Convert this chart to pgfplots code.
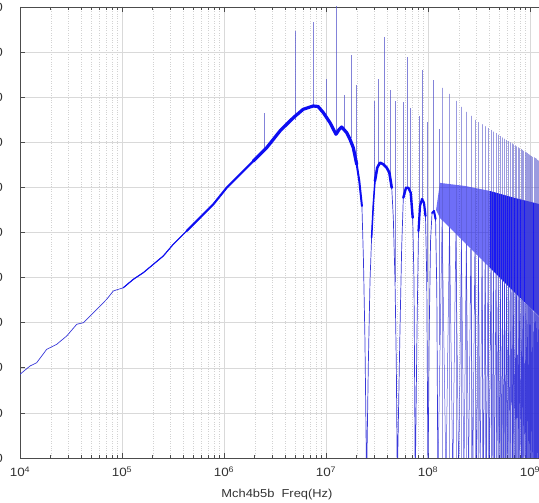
\documentclass[border=0pt]{standalone}
\usepackage{fontspec}
\setmainfont{Liberation Sans}[FakeStretch=1.12]
\usepackage{pgfplots}
\pgfplotsset{compat=1.18}
\definecolor{thinc}{rgb}{0.22,0.22,0.85}
\definecolor{thickc}{rgb}{0.05,0.05,0.95}
\definecolor{spk}{rgb}{0.35,0.35,0.8}
\definecolor{lobec}{rgb}{0.15,0.15,0.85}
\definecolor{axc}{rgb}{0.3,0.3,0.3}
\begin{document}
\begin{tikzpicture}[x=1pt,y=1pt]
\path[use as bounding box] (0,0) rectangle (539,503);
\clip (0,0) rectangle (539,503);
\begin{axis}[
  at={(20pt,45pt)}, anchor=south west,
  scale only axis, width=524.9pt, height=451pt,
  xmode=log, xmin=1e4, xmax=1.4e9, ymin=0, ymax=10,
  xtick={1e4,1e5,1e6,1e7,1e8,1e9},
  xticklabels={10\textsuperscript{4},10\textsuperscript{5},10\textsuperscript{6},10\textsuperscript{7},10\textsuperscript{8},10\textsuperscript{9}},
  ytick={0,1,...,10},
  yticklabels={-120,-110,-100,-90,-80,-70,-60,-50,-40,-30,-20},
  xmajorgrids, xminorgrids, ymajorgrids,
  major grid style={gray!30, line width=0.5pt},
  minor grid style={gray!35, dotted, line width=0.4pt},
  axis line style={axc, line width=0.8pt},
  tick style={axc, line width=0.6pt},
  major tick length=5pt, minor tick length=3pt,
  tick label style={font=\fontsize{12}{14}\selectfont, text=black!80},
  xticklabel style={yshift=-5pt},
  yticklabel style={xshift=-13.5pt},
  xlabel={Mch4b5b\ \ Freq(Hz)},
  xlabel style={font=\fontsize{11.5}{13}\selectfont, text=black!80, xshift=-5.5pt, yshift=-6pt},
  unbounded coords=jump,
  every axis plot/.append style={line join=round, line cap=round},
]
% band of the dense high-frequency part
\addplot[fill=thickc, draw=none, opacity=0.6] coordinates {
(1.2e8,5.5) (1.31e8,6.10) (2.31e8,6.031) (4.06e8,5.920) (4.06e8,4.213) (2.31e8,4.767) (1.31e8,5.322)} -- cycle;
\addplot[fill=thickc, draw=none, opacity=0.95] coordinates {
(4.06e8,5.920) (7.13e8,5.765) (1.225e9,5.632) (1.5e9,5.588) (1.5e9,2.949) (1.225e9,3.149) (7.13e8,3.659) (4.06e8,4.213)} -- cycle;
% harmonic spikes, high band (from bottom)
\addplot[ycomb, spk, line width=0.4pt, opacity=0.6, no marks] coordinates {
(1.375e8,8.204) (1.625e8,8.071) (1.875e8,7.916) (2.125e8,7.783) (2.375e8,7.672) (2.625e8,7.583) (2.875e8,7.494)
(3.125e8,7.444) (3.375e8,7.396) (3.625e8,7.352) (3.875e8,7.310) (4.125e8,7.270) (4.375e8,7.233) (4.625e8,7.199)
(4.875e8,7.165) (5.125e8,7.134) (5.375e8,7.104) (5.625e8,7.076) (5.875e8,7.048) (6.125e8,7.022) (6.375e8,6.996)
(6.625e8,6.972) (6.875e8,6.949) (7.125e8,6.927) (7.375e8,6.905) (7.625e8,6.884) (7.875e8,6.864) (8.125e8,6.844)
(8.375e8,6.826) (8.625e8,6.806) (8.875e8,6.789) (9.125e8,6.772) (9.375e8,6.755) (9.625e8,6.738) (9.875e8,6.722)
(1.0125e9,6.705) (1.0375e9,6.691) (1.0625e9,6.675) (1.0875e9,6.661) (1.1125e9,6.647) (1.1375e9,6.633)
(1.1625e9,6.619) (1.1875e9,6.606) (1.2125e9,6.593) (1.2375e9,6.580)};
% sinc lobes above 125 MHz
\addplot[lobec, line width=0.5pt, opacity=0.8, no marks] coordinates {
(1.25e8,-0.5) (1.375e8,5.275) (1.5e8,-0.5) (1.625e8,5.111) (1.75e8,-0.5) (1.875e8,4.969) (2e8,-0.5) (2.125e8,4.847)
(2.25e8,-0.5) (2.375e8,4.738) (2.5e8,-0.5) (2.625e8,4.639) (2.75e8,-0.5) (2.875e8,4.550) (3e8,-0.5) (3.125e8,4.468)
(3.25e8,-0.5) (3.375e8,4.392) (3.5e8,-0.5) (3.625e8,4.322) (3.75e8,-0.5) (3.875e8,4.257) (4e8,-0.5) (4.125e8,4.195)
(4.25e8,-0.5) (4.375e8,4.137) (4.5e8,-0.5) (4.625e8,4.082) (4.75e8,-0.5) (4.875e8,4.031) (5e8,-0.5) (5.125e8,3.982)
(5.25e8,-0.5) (5.375e8,3.936) (5.5e8,-0.5) (5.625e8,3.891) (5.75e8,-0.5) (5.875e8,3.847) (6e8,-0.5) (6.125e8,3.807)
(6.25e8,-0.5) (6.375e8,3.767) (6.5e8,-0.5) (6.625e8,3.730) (6.75e8,-0.5) (6.875e8,3.693) (7e8,-0.5) (7.125e8,3.659)
(7.25e8,-0.5) (7.375e8,3.625) (7.5e8,-0.5) (7.625e8,3.592) (7.75e8,-0.5) (7.875e8,3.561) (8e8,-0.5) (8.125e8,3.530)
(8.25e8,-0.5) (8.375e8,3.499) (8.5e8,-0.5) (8.625e8,3.470) (8.75e8,-0.5) (8.875e8,3.443) (9e8,-0.5) (9.125e8,3.415)
(9.25e8,-0.5) (9.375e8,3.390) (9.5e8,-0.5) (9.625e8,3.364) (9.75e8,-0.5) (9.875e8,3.337) (1e9,-0.5) (1.0125e9,3.313)
(1.025e9,-0.5) (1.0375e9,3.290) (1.05e9,-0.5) (1.0625e9,3.266) (1.075e9,-0.5) (1.0875e9,3.244) (1.1e9,-0.5) (1.1125e9,3.222)
(1.125e9,-0.5) (1.1375e9,3.200) (1.15e9,-0.5) (1.1625e9,3.177) (1.175e9,-0.5) (1.1875e9,3.157) (1.2e9,-0.5) (1.2125e9,3.137)
(1.225e9,-0.5) (1.2375e9,3.115) (1.25e9,-0.5)};
% low-frequency harmonic spikes
\addplot[spk, line width=0.45pt, opacity=0.75, no marks, line cap=butt] coordinates {
(2.5e6,6.88) (2.5e6,7.656) (2.5e6,nan)
(5e6,7.49) (5e6,9.468) (5e6,nan)
(7.5e6,7.80) (7.5e6,9.667) (7.5e6,nan)
(1e7,7.55) (1e7,8.404) (1e7,nan)
(1.25e7,7.18) (1.25e7,10.5) (1.25e7,nan)
(1.5e7,7.25) (1.5e7,8.049) (1.5e7,nan)
(1.75e7,7.09) (1.75e7,8.936) (1.75e7,nan)
(2e7,6.51) (2e7,8.271) (2e7,nan)
(3e7,6.1) (3e7,7.916) (3e7,nan)
(3.25e7,6.45) (3.25e7,8.404) (3.25e7,nan)
(3.75e7,6.5) (3.75e7,9.335) (3.75e7,nan)
(4.25e7,6.2) (4.25e7,8.160) (4.25e7,nan)
(4.75e7,3.9) (4.75e7,7.916) (4.75e7,nan)
(5.75e7,5.77) (5.75e7,7.894) (5.75e7,nan)
(6.25e7,5.99) (6.25e7,8.891) (6.25e7,nan)
(6.75e7,5.88) (6.75e7,7.761) (6.75e7,nan)
(8.25e7,5.6) (8.25e7,7.583) (8.25e7,nan)
(8.75e7,5.74) (8.75e7,8.603) (8.75e7,nan)
(9.75e7,3.9) (9.75e7,7.450) (9.75e7,nan)
(1.125e8,5.48) (1.125e8,8.381) (1.125e8,nan)
(1.275e8,2.5) (1.275e8,7.295)};
% main spectrum, thin
\addplot[thinc, line width=0.7pt, no marks] coordinates {
(1e4,1.856) (1.254e4,2.040) (1.458e4,2.113) (1.827e4,2.410) (2.29e4,2.521) (2.87e4,2.705) (3.60e4,2.965)
(4.18e4,3.000) (5.05e4,3.186) (6.09e4,3.370) (7.08e4,3.519) (8.22e4,3.703) (1.031e5,3.776) (1.291e5,3.962)
(1.618e5,4.109) (2.03e5,4.295) (2.54e5,4.479) (3.18e5,4.738) (4.31e5,5.033) (5.82e5,5.328) (7.86e5,5.625)
(1.062e6,5.993) (1.435e6,6.290) (1.937e6,6.585) (2.62e6,6.880) (3.54e6,7.251) (4.78e6,7.545) (5.98e6,7.732)
(7.50e6,7.805) (8.36e6,7.794) (9.42e6,7.656) (1.095e7,7.435) (1.253e7,7.177) (1.349e7,7.288) (1.425e7,7.339)
(1.596e7,7.213) (1.718e7,7.067) (1.852e7,6.880) (2.00e7,6.512) (2.12e7,6.142) (2.25e7,5.588) (2.33e7,4.368)
(2.41e7,2.594) (2.5e7,-0.5)
(2.60e7,2.078) (2.70e7,3.925) (2.80e7,4.885) (2.91e7,5.625) (3.02e7,6.142) (3.18e7,6.437) (3.38e7,6.548)
(3.65e7,6.512) (3.94e7,6.437) (4.18e7,6.326) (4.41e7,5.993) (4.57e7,5.328) (4.75e7,3.925) (4.89e7,2.084) (5e7,-0.5)
(5.31e7,2.816) (5.52e7,4.663) (5.73e7,5.772) (6.09e7,5.993) (6.41e7,5.993) (6.77e7,5.882) (7.08e7,5.328) (7.29e7,3.925) (7.5e7,-0.5)
(7.80e7,2.816) (8.07e7,5.033) (8.35e7,5.588) (8.74e7,5.743) (9.14e7,5.654) (9.45e7,5.366) (9.73e7,3.925) (1e8,-0.5)
(1.028e8,2.816) (1.059e8,4.812) (1.095e8,5.432) (1.146e8,5.477) (1.186e8,5.299) (1.220e8,3.703) (1.25e8,-0.5)};
% thicker noisy parts
\addplot[thickc, line width=1.1pt, no marks] coordinates {
(1.031e5,3.776) (1.291e5,3.962) (1.618e5,4.109) (2.03e5,4.295) (2.54e5,4.479) (3.18e5,4.738) (4.31e5,5.033) (5.82e5,5.328)};
\addplot[thickc, line width=2.1pt, no marks] coordinates {
(4.31e5,5.033) (5.82e5,5.328) (7.86e5,5.625) (1.062e6,5.993) (1.435e6,6.290) (1.937e6,6.585)};
\addplot[thickc, line width=3.2pt, no marks] coordinates {
(1.937e6,6.585) (2.62e6,6.880) (3.54e6,7.251) (4.78e6,7.545) (5.98e6,7.732) (7.50e6,7.805) (8.36e6,7.794)
(9.42e6,7.656) (1.095e7,7.435) (1.253e7,7.177) (1.349e7,7.288) (1.425e7,7.339) (1.596e7,7.213) (1.718e7,7.067)
(1.852e7,6.880) (2.00e7,6.512)};
\addplot[thickc, line width=2.0pt, no marks] coordinates {
(2.00e7,6.512) (2.12e7,6.142) (2.25e7,5.588)};
\addplot[thickc, line width=1.5pt, no marks] coordinates {
(2.80e7,4.885) (2.91e7,5.625) (3.02e7,6.142)};
\addplot[thickc, line width=2.6pt, no marks] coordinates {
(3.02e7,6.142) (3.18e7,6.437) (3.38e7,6.548) (3.65e7,6.512) (3.94e7,6.437) (4.18e7,6.326) (4.41e7,5.993)};
\addplot[thickc, line width=2.4pt, no marks] coordinates {
(5.73e7,5.772) (6.09e7,5.993) (6.41e7,5.993) (6.77e7,5.882) (7.08e7,5.328)};
\addplot[thickc, line width=2.2pt, no marks] coordinates {
(8.07e7,5.033) (8.35e7,5.588) (8.74e7,5.743) (9.14e7,5.654) (9.45e7,5.366)};
\addplot[thickc, line width=2pt, no marks] coordinates {
(1.095e8,5.432) (1.146e8,5.477) (1.186e8,5.299)};
\end{axis}
\end{tikzpicture}
\end{document}
